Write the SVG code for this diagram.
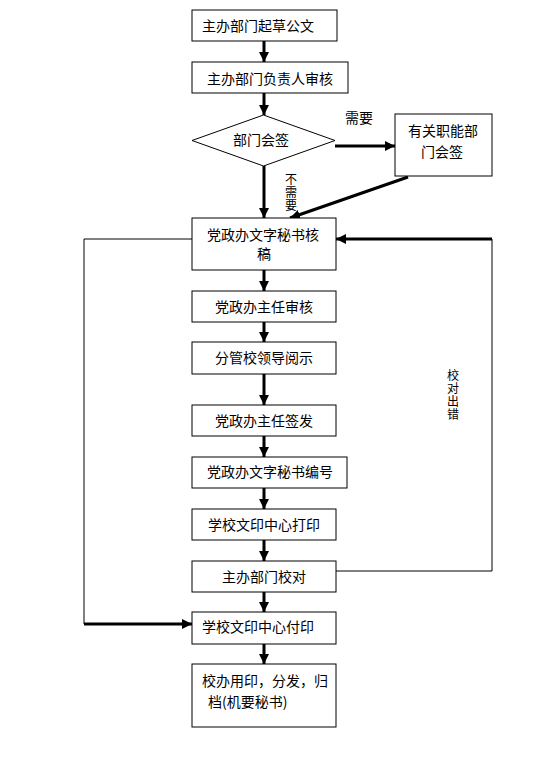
<svg xmlns="http://www.w3.org/2000/svg" width="552" height="780" viewBox="0 0 552 780">
<style>
.box{fill:#fff;stroke:#000;stroke-width:1}
.t{font-family:"Noto Sans CJK SC","Liberation Sans",sans-serif;font-size:14px;fill:#000}
.v{font-family:"Noto Sans CJK SC","Liberation Sans",sans-serif;font-size:12px;fill:#000;writing-mode:vertical-rl;letter-spacing:1px}
.thick{fill:none;stroke:#000;stroke-width:3}
.thin{fill:none;stroke:#000;stroke-width:1}
</style>
<defs>
<marker id="ah" markerUnits="userSpaceOnUse" markerWidth="10" markerHeight="10" viewBox="0 0 10 10" refX="10" refY="5" orient="auto">
<path d="M0,0 L10,5 L0,10 Z" fill="#000"/>
</marker>
</defs>
<rect width="552" height="780" fill="#fff"/>
<g id="connectors">
<line class="thick" x1="264" y1="41" x2="264" y2="62" marker-end="url(#ah)"/>
<line class="thick" x1="264" y1="93" x2="264" y2="115" marker-end="url(#ah)"/>
<line class="thick" x1="264" y1="166" x2="264" y2="218" marker-end="url(#ah)"/>
<line class="thick" x1="335" y1="146" x2="395" y2="146" marker-end="url(#ah)"/>
<line class="thick" x1="408" y1="177" x2="290" y2="218" marker-end="url(#ah)"/>
<line class="thick" x1="264" y1="270" x2="264" y2="291" marker-end="url(#ah)"/>
<line class="thick" x1="264" y1="322" x2="264" y2="342" marker-end="url(#ah)"/>
<line class="thick" x1="264" y1="374" x2="264" y2="405" marker-end="url(#ah)"/>
<line class="thick" x1="264" y1="436" x2="264" y2="457" marker-end="url(#ah)"/>
<line class="thick" x1="264" y1="488" x2="264" y2="509" marker-end="url(#ah)"/>
<line class="thick" x1="264" y1="540" x2="264" y2="561" marker-end="url(#ah)"/>
<line class="thick" x1="264" y1="592" x2="264" y2="612" marker-end="url(#ah)"/>
<line class="thick" x1="264" y1="644" x2="264" y2="664" marker-end="url(#ah)"/>
<polyline class="thin" points="336,571 492,571 492,239"/>
<line class="thick" x1="492" y1="239" x2="336" y2="239" marker-end="url(#ah)"/>
<polyline class="thin" points="192,239 84,239 84,624"/>
<line class="thick" x1="84" y1="624" x2="192" y2="624" marker-end="url(#ah)"/>
<text class="t" x="345" y="123">需要</text>
<text class="v" x="291" y="173">不需要</text>
<text class="v" x="453" y="369">校对出错</text>
</g>
<g id="n1"><rect class="box" x="192" y="10" width="145" height="31"/><text class="t" x="202" y="31">主办部门起草公文</text></g>
<g id="n2"><rect class="box" x="192" y="62" width="156" height="31"/><text class="t" x="207" y="84">主办部门负责人审核</text></g>
<g id="n3"><polygon class="box" points="192,140.5 263.5,115 335,140.5 263.5,166"/><text class="t" x="233" y="145">部门会签</text></g>
<g id="n4"><rect class="box" x="395" y="114" width="97" height="62"/><text class="t" x="408" y="136">有关职能部</text><text class="t" x="421" y="157">门会签</text></g>
<g id="n5"><rect class="box" x="192" y="218" width="144" height="52"/><text class="t" x="207" y="240">党政办文字秘书核</text><text class="t" x="257" y="259">稿</text></g>
<g id="n6"><rect class="box" x="192" y="291" width="144" height="31"/><text class="t" x="215" y="312">党政办主任审核</text></g>
<g id="n7"><rect class="box" x="192" y="342" width="144" height="32"/><text class="t" x="215" y="363">分管校领导阅示</text></g>
<g id="n8"><rect class="box" x="192" y="405" width="144" height="31"/><text class="t" x="215" y="426">党政办主任签发</text></g>
<g id="n9"><rect class="box" x="192" y="457" width="155" height="31"/><text class="t" x="207" y="477">党政办文字秘书编号</text></g>
<g id="n10"><rect class="box" x="192" y="509" width="144" height="31"/><text class="t" x="208" y="530">学校文印中心打印</text></g>
<g id="n11"><rect class="box" x="192" y="561" width="144" height="31"/><text class="t" x="222" y="582">主办部门校对</text></g>
<g id="n12"><rect class="box" x="192" y="612" width="144" height="32"/><text class="t" x="202" y="632">学校文印中心付印</text></g>
<g id="n13"><rect class="box" x="192" y="664" width="144" height="63"/><text class="t" x="202" y="686">校办用印，分发，归</text><text class="t" x="208" y="707">档(机要秘书)</text></g>
</svg>
